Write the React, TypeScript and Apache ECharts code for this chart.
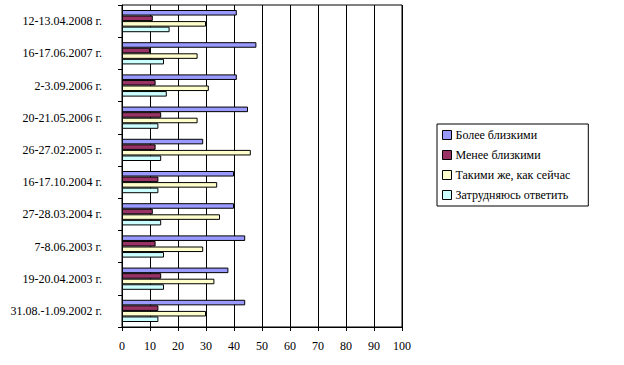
import React, { useEffect, useRef } from "react";
import * as echarts from "echarts";

const categories = [
  "31.08.-1.09.2002 г.",
  "19-20.04.2003 г.",
  "7-8.06.2003 г.",
  "27-28.03.2004 г.",
  "16-17.10.2004 г.",
  "26-27.02.2005 г.",
  "20-21.05.2006 г.",
  "2-3.09.2006 г.",
  "16-17.06.2007 г.",
  "12-13.04.2008 г.",
];

const closer = [44, 38, 44, 40, 40, 29, 45, 41, 48, 41];
const lessClose = [13, 14, 12, 11, 13, 12, 14, 12, 10, 11];
const same = [30, 33, 29, 35, 34, 46, 27, 31, 27, 30];
const hardToSay = [13, 15, 15, 14, 13, 14, 13, 16, 15, 17];

const seriesNames = [
  "Более близкими",
  "Менее близкими",
  "Такими же, как сейчас",
  "Затрудняюсь ответить",
];
const seriesColors = ["#9999FF", "#993366", "#FFFFCC", "#CCFFFF"];
const seriesData = [closer, lessClose, same, hardToSay];

const xTicks = { min: 0, max: 100, interval: 10 };

export default function App() {
  const ref = useRef<HTMLDivElement>(null);
  useEffect(() => {
    if (!ref.current) return;
    const chart = echarts.init(ref.current, undefined, { renderer: "svg" });
    const font = "'Liberation Serif', 'Times New Roman', serif";
    chart.setOption({
      animation: false,
      backgroundColor: "#ffffff",
      textStyle: { fontFamily: font },
      grid: {
        left: 122,
        top: 5,
        width: 280,
        height: 322,
        show: true,
        borderColor: "#000",
        borderWidth: 1,
        backgroundColor: "transparent",
      },
      legend: {
        data: seriesNames,
        orient: "vertical",
        left: 437,
        top: 124,
        borderColor: "#000",
        borderWidth: 1,
        padding: [4, 18, 4, 5],
        itemWidth: 9,
        itemHeight: 9,
        itemGap: 6,
        icon: "rect",
        textStyle: {
          fontFamily: font,
          fontSize: 12,
          color: "#000",
          lineHeight: 14,
          padding: [0, 0, 0, -1],
        },
        itemStyle: { borderColor: "#000", borderWidth: 1 },
      },
      xAxis: {
        type: "value",
        min: xTicks.min,
        max: xTicks.max,
        interval: xTicks.interval,
        axisLine: { show: true, lineStyle: { color: "#000", width: 1 } },
        axisTick: { show: true, length: 4, lineStyle: { color: "#000" } },
        splitLine: { show: true, lineStyle: { color: "#000", width: 1 } },
        axisLabel: {
          fontFamily: font,
          fontSize: 12,
          color: "#000",
          margin: 13,
        },
      },
      yAxis: {
        type: "category",
        data: categories,
        axisLine: { show: true, lineStyle: { color: "#000", width: 1 } },
        axisTick: { show: true, length: 4, lineStyle: { color: "#000" } },
        axisLabel: {
          fontFamily: font,
          fontSize: 12,
          color: "#000",
          margin: 20,
        },
      },
      series: seriesNames.map((name, i) => ({
        name,
        type: "bar",
        data: seriesData[i],
        barGap: "0%",
        barCategoryGap: "31%",
        itemStyle: {
          color: seriesColors[i],
          borderColor: "#000",
          borderWidth: 1,
        },
      })),
    });
    return () => chart.dispose();
  }, []);
  return (
    <div
      ref={ref}
      style={{ position: "fixed", left: 0, top: 0, width: 624, height: 365, background: "#fff" }}
    />
  );
}
